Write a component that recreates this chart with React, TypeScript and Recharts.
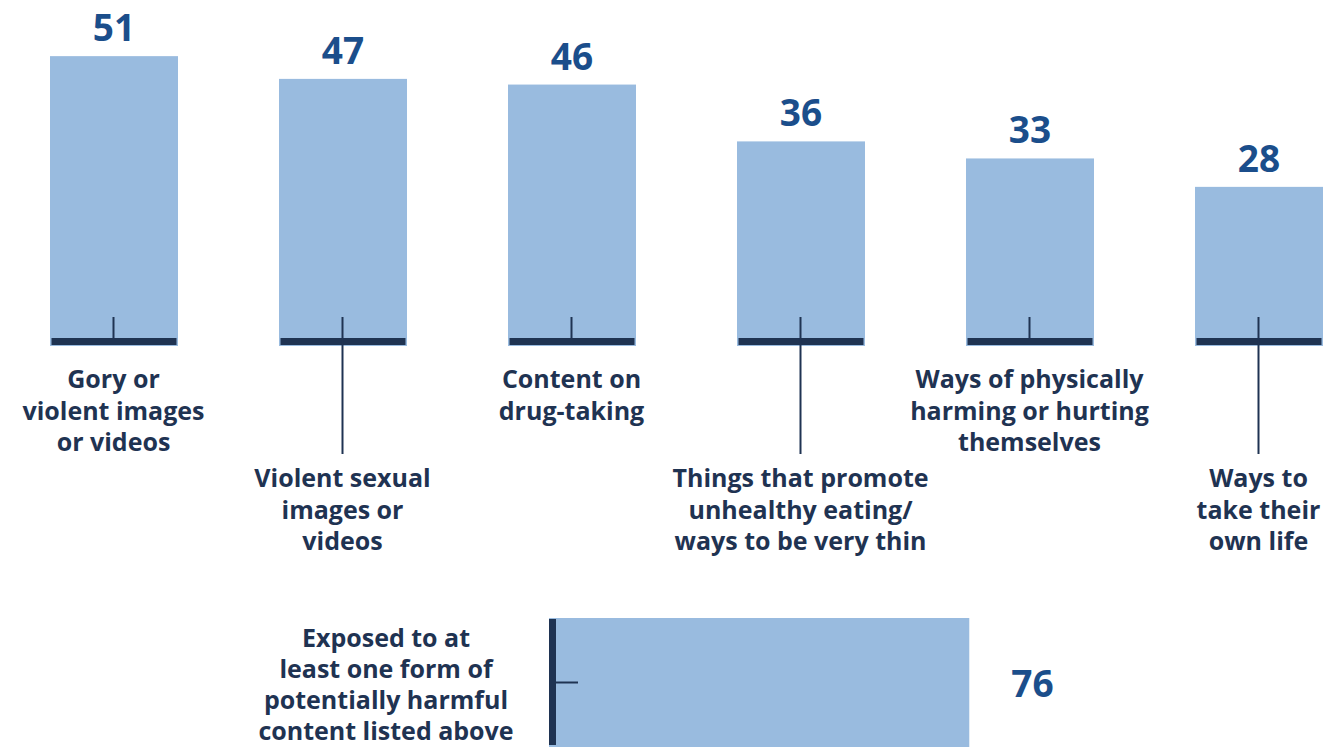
import React from 'react';
import { BarChart, Bar, XAxis, YAxis, LabelList } from 'recharts';

const categories = [
  ['Gory or', 'violent images', 'or videos'],
  ['Violent sexual', 'images or', 'videos'],
  ['Content on', 'drug-taking'],
  ['Things that promote', 'unhealthy eating/', 'ways to be very thin'],
  ['Ways of physically', 'harming or hurting', 'themselves'],
  ['Ways to', 'take their', 'own life'],
];
const values = [51, 47, 46, 36, 33, 28];

const totalLabel = ['Exposed to at', 'least one form of', 'potentially harmful', 'content listed above'];
const totalValue = [76];

const data = categories.map((c, i) => ({ name: c.join(' '), value: values[i] }));
const totalData = [{ name: totalLabel.join(' '), value: totalValue[0] }];

const LIGHT = '#99bbdf';
const DARK = '#1f3352';
const NUM = '#1b4e8b';
const FONT = '"Open Sans", sans-serif';

const ColumnShape = (props: any) => {
  const { x, y, width, height } = props;
  return (
    <g>
      <rect x={x} y={y} width={width} height={height} fill={LIGHT} />
      <rect x={x + 1.5} y={y + height - 8} width={width - 3} height={7} fill={DARK} />
    </g>
  );
};

const RowShape = (props: any) => {
  const { x, y, width, height } = props;
  return (
    <g>
      <rect x={x} y={y} width={width} height={height} fill={LIGHT} />
      <rect x={x} y={y + 1} width={7} height={height - 3} fill={DARK} />
    </g>
  );
};

const ColumnTick = (props: any) => {
  const { x, y, payload } = props;
  const i = payload.index;
  const lines = categories[i];
  const long = i % 2 === 1;
  const firstBase = long ? 141 : 42;
  return (
    <g>
      <line x1={x} x2={x} y1={y - 29} y2={long ? y + 108 : y - 7} stroke={DARK} strokeWidth={2} />
      <text textAnchor="middle" fontFamily={FONT} fontWeight={700} fontSize={25} fill={DARK}>
        {lines.map((l, k) => (
          <tspan key={k} x={x} y={y + firstBase + k * 31.5}>
            {l}
          </tspan>
        ))}
      </text>
    </g>
  );
};

const RowTick = (props: any) => {
  const { x, y } = props;
  return (
    <g>
      <line x1={x + 7} x2={x + 29} y1={y} y2={y} stroke={DARK} strokeWidth={2} />
      <text textAnchor="middle" fontFamily={FONT} fontWeight={700} fontSize={25} fill={DARK}>
        {totalLabel.map((l, k) => (
          <tspan key={k} x={x - 163} y={y - 36 + k * 31.3}>
            {l}
          </tspan>
        ))}
      </text>
    </g>
  );
};

const TopValue = (props: any) => {
  const { x, y, width, value } = props;
  return (
    <text x={x + width / 2} y={y - 15} textAnchor="middle" fontFamily={FONT} fontWeight={700} fontSize={37} fill={NUM}>
      {value}
    </text>
  );
};

const RightValue = (props: any) => {
  const { x, y, width, height, value } = props;
  return (
    <text x={x + width + 42} y={y + height / 2 + 14} textAnchor="start" fontFamily={FONT} fontWeight={700} fontSize={37} fill={NUM}>
      {value}
    </text>
  );
};

export default function App() {
  return (
    <div style={{ position: 'absolute', left: 0, top: 0, width: 1326, height: 747, overflow: 'hidden', background: '#fff' }}>
      <div style={{ position: 'absolute', left: -1, top: 0 }}>
        <BarChart width={1374} height={566} data={data} margin={{ top: 5, right: 0, left: 0, bottom: 0 }}>
          <XAxis
            dataKey="name"
            height={220}
            tickSize={0}
            tickMargin={0}
            axisLine={false}
            tickLine={false}
            interval={0}
            tick={<ColumnTick />}
          />
          <YAxis hide domain={[0, 60]} />
          <Bar dataKey="value" barSize={128} shape={<ColumnShape />} isAnimationActive={false}>
            <LabelList dataKey="value" content={<TopValue />} />
          </Bar>
        </BarChart>
      </div>
      <div style={{ position: 'absolute', left: 0, top: 600 }}>
        <BarChart
          width={1326}
          height={147}
          data={totalData}
          layout="vertical"
          barCategoryGap={0}
          margin={{ top: 18, right: 224, left: 0, bottom: 0 }}
        >
          <XAxis type="number" hide domain={[0, 100]} />
          <YAxis
            type="category"
            dataKey="name"
            width={549}
            tickSize={0}
            tickMargin={0}
            axisLine={false}
            tickLine={false}
            tick={<RowTick />}
          />
          <Bar dataKey="value" shape={<RowShape />} isAnimationActive={false}>
            <LabelList dataKey="value" content={<RightValue />} />
          </Bar>
        </BarChart>
      </div>
    </div>
  );
}
